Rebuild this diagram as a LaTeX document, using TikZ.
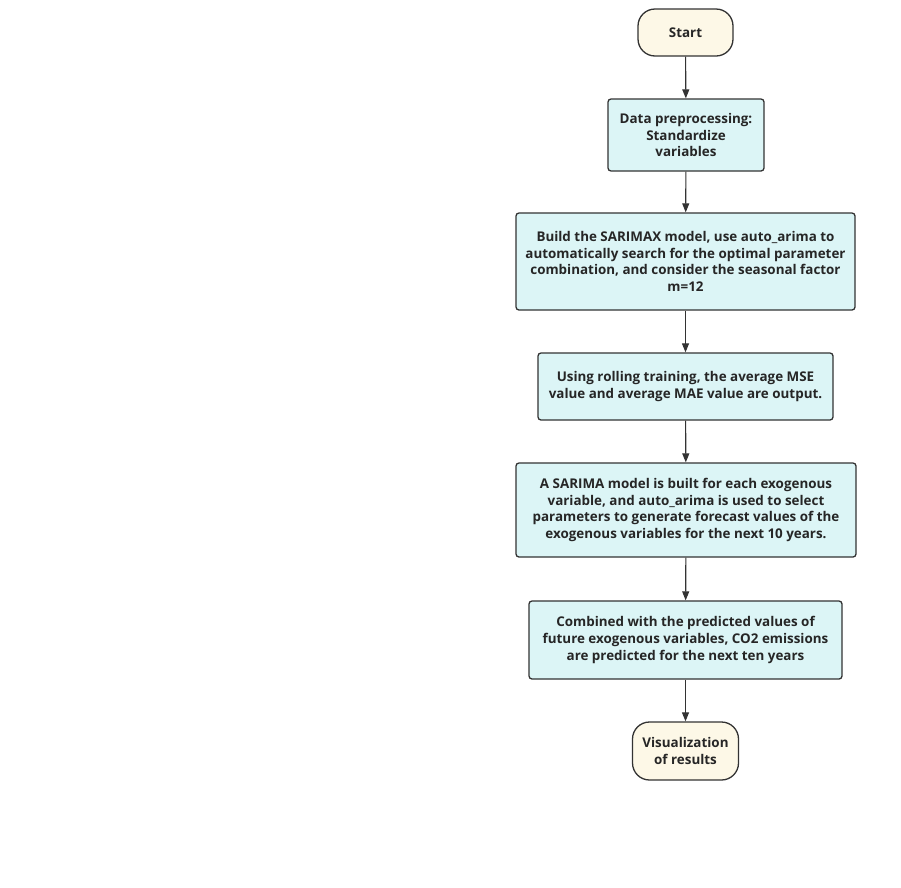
\documentclass[tikz,border=0pt]{standalone}
\usepackage{fontspec}
\setmainfont{Open Sans}
\usetikzlibrary{arrows.meta}
\definecolor{boxfill}{RGB}{220,245,246}
\definecolor{termfill}{RGB}{253,248,231}
\definecolor{edge}{RGB}{51,51,51}
\tikzset{
  base/.style={draw=edge, line width=1.3pt, align=center, inner sep=2pt,
    font=\fontsize{13.4}{16.6}\selectfont\bfseries, text=black!85},
  procbox/.style={base, fill=boxfill, rounded corners=3pt},
  termbox/.style={base, fill=termfill, rounded corners=17pt},
  flow/.style={draw=edge, line width=1.1pt, -{Triangle[length=9pt,width=7pt]}}
}
\begin{document}
\begin{tikzpicture}[x=1pt,y=-1pt]
\useasboundingbox (0,0) rectangle (901,887);
\node[termbox, minimum width=95pt, minimum height=47pt] (start) at (685.5,32.5) {Start};
\node[procbox, minimum width=156pt, minimum height=72pt] (data) at (686,135) {Data preprocessing:\\Standardize\\variables};
\node[procbox, minimum width=339pt, minimum height=97pt] (build) at (685.5,261.5) {Build the SARIMAX model, use auto\_arima to\\automatically search for the optimal parameter\\combination, and consider the seasonal factor\\m=12};
\node[procbox, minimum width=295pt, minimum height=67pt] (roll) at (685.5,386.5) {Using rolling training, the average MSE\\value and average MAE value are output.};
\node[procbox, minimum width=340pt, minimum height=94pt] (sarima) at (686,510) {A SARIMA model is built for each exogenous\\variable, and auto\_arima is used to select\\parameters to generate forecast values of the\\exogenous variables for the next 10 years.};
\node[procbox, minimum width=313pt, minimum height=78pt] (comb) at (685.5,640) {Combined with the predicted values of\\future exogenous variables, CO2 emissions\\are predicted for the next ten years};
\node[termbox, minimum width=106pt, minimum height=58pt] (vis) at (685.5,751) {Visualization\\of results};
\draw[flow] (start) -- (data);
\draw[flow] (data) -- (build);
\draw[flow] (build) -- (roll);
\draw[flow] (roll) -- (sarima);
\draw[flow] (sarima) -- (comb);
\draw[flow] (comb) -- (vis);
\end{tikzpicture}
\end{document}
